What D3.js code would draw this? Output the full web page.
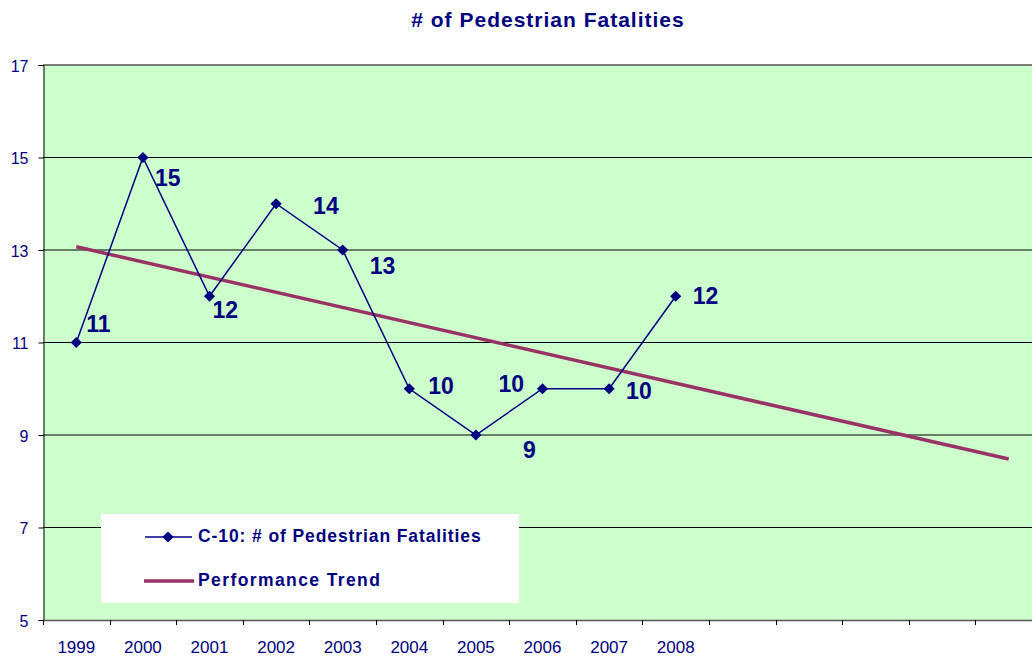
<!DOCTYPE html>
<html>
<head>
<meta charset="utf-8">
<script src="https://cdn.jsdelivr.net/npm/d3@7"></script>
<style>
  body { margin: 0; background: #fff; }
  text { font-family: "Liberation Sans", Arial, sans-serif; fill: #000080; }
</style>
</head>
<body>
<div id="chart"></div>
<script>
// data
var years = ["1999", "2000", "2001", "2002", "2003", "2004", "2005", "2006", "2007", "2008", "", "", "", "", ""];
var fatalities = [11, 15, 12, 14, 13, 10, 9, 10, 10, 12];
var trendIdx = [0, 14];
var trendValues = [13.07, 8.48];
var yTicks = [5, 7, 9, 11, 13, 15, 17];

// label offsets from each point (px), like the hand-placed labels in the original
var labelOffset = [[10, -11], [12, 28], [3, 22], [37, 10], [27, 24], [19, 5], [47, 23], [-44, 3], [17, 10], [17, 8]];

var width = 1032,
  height = 656;

var svg = d3
  .select("#chart")
  .append("svg")
  .attr("width", width)
  .attr("height", height);

var x = d3.scaleBand().domain(d3.range(years.length)).range([43, 1042]);
var y = d3.scaleLinear().domain([5, 17]).range([620, 65]);

function cx(i) {
  return x(i) + x.bandwidth() / 2;
}

// plot background
svg.append("rect")
  .attr("x", 43)
  .attr("y", 65)
  .attr("width", 1042 - 43)
  .attr("height", 620 - 65)
  .attr("fill", "#ccffcc");

// gridlines
svg.selectAll(".grid")
  .data(yTicks.filter(d => d > 5))
  .enter()
  .append("line")
  .attr("class", "grid")
  .attr("x1", 43)
  .attr("x2", 1042)
  .attr("y1", d => y(d))
  .attr("y2", d => y(d))
  .attr("stroke", "#000")
  .attr("stroke-width", 1);

// y axis
var yAxis = svg.append("g")
  .attr("transform", "translate(43.5,0)")
  .call(d3.axisLeft(y).tickValues(yTicks).tickSize(5).tickPadding(10));
yAxis.select(".domain").attr("stroke", "#000");
yAxis.selectAll(".tick line").attr("stroke", "#000");
yAxis.selectAll("text")
  .attr("font-size", "16px")
  .attr("fill", "#000080")
  .attr("dy", "0.4em");

// x axis
var xAxis = svg.append("g")
  .attr("transform", "translate(0,620)")
  .call(d3.axisBottom(x).tickSize(0).tickFormat(i => years[i]));
xAxis.select(".domain").attr("stroke", "#555").attr("stroke-width", 1.5);
xAxis.selectAll("text")
  .attr("font-size", "17px")
  .attr("fill", "#000080")
  .attr("y", 33)
  .attr("dy", 0);

// category separator ticks
svg.selectAll(".xtick")
  .data(d3.range(years.length + 1))
  .enter()
  .append("line")
  .attr("class", "xtick")
  .attr("x1", i => Math.round(43 + i * x.step()) + 0.5)
  .attr("x2", i => Math.round(43 + i * x.step()) + 0.5)
  .attr("y1", 620)
  .attr("y2", 625)
  .attr("stroke", "#000");

// legend box (drawn under the lines, as in the original)
svg.append("rect")
  .attr("x", 101)
  .attr("y", 514)
  .attr("width", 418)
  .attr("height", 89)
  .attr("fill", "#fff");

// trend line
svg.append("line")
  .attr("x1", cx(trendIdx[0]))
  .attr("y1", y(trendValues[0]))
  .attr("x2", cx(trendIdx[1]))
  .attr("y2", y(trendValues[1]))
  .attr("stroke", "#993366")
  .attr("stroke-width", 3.5);

// fatalities line
var line = d3.line()
  .x((d, i) => cx(i))
  .y(d => y(d));

svg.append("path")
  .datum(fatalities)
  .attr("d", line)
  .attr("fill", "none")
  .attr("stroke", "#000080")
  .attr("stroke-width", 1.5);

var diamond = d3.symbol().type(d3.symbolDiamond2).size(80);

svg.selectAll(".pt")
  .data(fatalities)
  .enter()
  .append("path")
  .attr("class", "pt")
  .attr("d", diamond)
  .attr("transform", (d, i) => "translate(" + cx(i) + "," + y(d) + ")")
  .attr("fill", "#000080");

svg.selectAll(".lbl")
  .data(fatalities)
  .enter()
  .append("text")
  .attr("class", "lbl")
  .attr("x", (d, i) => cx(i) + labelOffset[i][0])
  .attr("y", (d, i) => y(d) + labelOffset[i][1])
  .attr("font-size", "23px")
  .attr("font-weight", "bold")
  .text(d => d);

// legend entries
var lg = svg.append("g");
lg.append("line")
  .attr("x1", 145).attr("x2", 192)
  .attr("y1", 537).attr("y2", 537)
  .attr("stroke", "#000080").attr("stroke-width", 1.5);
lg.append("path")
  .attr("d", diamond)
  .attr("transform", "translate(168,537)")
  .attr("fill", "#000080");
lg.append("text")
  .attr("x", 198).attr("y", 542)
  .attr("font-size", "17.5px").attr("font-weight", "bold")
  .attr("letter-spacing", "0.9px")
  .text("C-10: # of Pedestrian Fatalities");
lg.append("line")
  .attr("x1", 144).attr("x2", 194)
  .attr("y1", 581).attr("y2", 581)
  .attr("stroke", "#993366").attr("stroke-width", 3.5);
lg.append("text")
  .attr("x", 198).attr("y", 586)
  .attr("font-size", "17.5px").attr("font-weight", "bold")
  .attr("letter-spacing", "1.4px")
  .text("Performance Trend");

// title
svg.append("text")
  .attr("x", 548)
  .attr("y", 27)
  .attr("text-anchor", "middle")
  .attr("font-size", "21px")
  .attr("font-weight", "bold")
  .attr("letter-spacing", "1px")
  .text("# of Pedestrian Fatalities");
</script>
</body>
</html>
